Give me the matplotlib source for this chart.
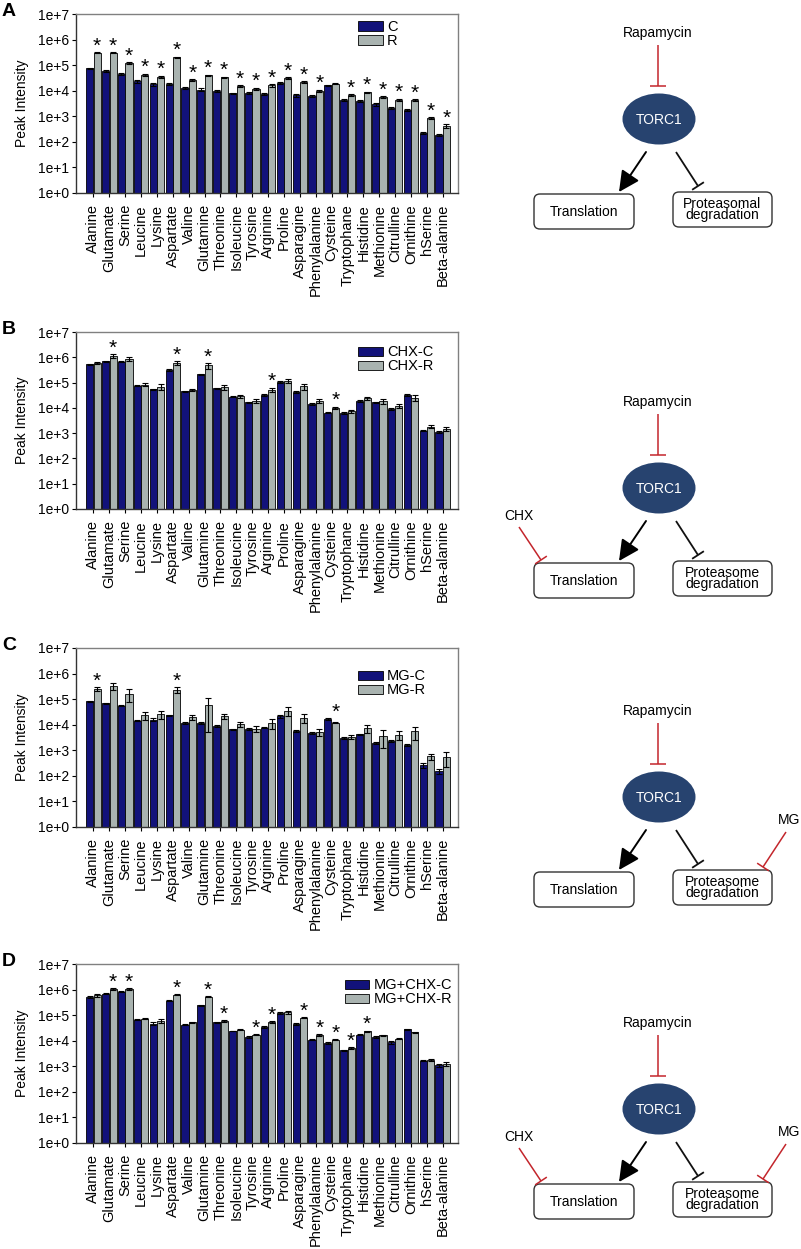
import matplotlib
matplotlib.use('Agg')
import matplotlib.pyplot as plt
import numpy as np
from matplotlib.patches import Ellipse, FancyBboxPatch
from matplotlib.ticker import FixedLocator, FuncFormatter, NullLocator

plt.rcParams['font.family'] = ['Liberation Sans', 'DejaVu Sans']

amino_acids = ['Alanine', 'Glutamate', 'Serine', 'Leucine', 'Lysine', 'Aspartate',
               'Valine', 'Glutamine', 'Threonine', 'Isoleucine', 'Tyrosine', 'Arginine',
               'Proline', 'Asparagine', 'Phenylalanine', 'Cysteine', 'Tryptophane',
               'Histidine', 'Methionine', 'Citrulline', 'Ornithine', 'hSerine', 'Beta-alanine']

# Panel A: C vs R
a_c = [7.4e4, 6.0e4, 4.4e4, 2.3e4, 1.8e4, 1.8e4, 1.26e4, 1.1e4, 1.0e4, 7.8e3, 8.5e3, 7.3e3,
       2.0e4, 6.6e3, 6.3e3, 1.6e4, 4.5e3, 4.0e3, 2.9e3, 2.2e3, 1.8e3, 2.3e2, 1.9e2]
a_c_err = [6e3, 6e3, 4e3, 2.5e3, 2.5e3, 1.5e3, 1e3, 1.5e3, 1e3, 6e2, 8e2, 6e2,
           2e3, 8e2, 6e2, 1.2e3, 4e2, 4e2, 3e2, 2e2, 2e2, 2e1, 1.5e1]
a_r = [3.1e5, 3.1e5, 1.2e5, 4.1e4, 3.5e4, 2.05e5, 2.6e4, 4.0e4, 3.3e4, 1.5e4, 1.2e4, 1.6e4,
       3.2e4, 2.2e4, 1.0e4, 1.9e4, 6.7e3, 8.7e3, 5.6e3, 4.5e3, 4.2e3, 8.4e2, 4.2e2]
a_r_err = [1.5e4, 1.5e4, 8e3, 5e3, 4e3, 1e4, 2e3, 2e3, 2e3, 1e3, 1e3, 1.5e3,
           2e3, 1.5e3, 1e3, 1e3, 5e2, 6e2, 5e2, 4e2, 4e2, 6e1, 6e1]
a_sig = [n for n in amino_acids if n != 'Cysteine']

# Panel B: CHX-C vs CHX-R
b_c = [5.2e5, 7.0e5, 6.8e5, 7.5e4, 5.4e4, 3.1e5, 4.5e4, 2.1e5, 5.9e4, 2.8e4, 1.65e4, 3.2e4,
       1.05e5, 4.2e4, 1.4e4, 6.5e3, 6.3e3, 1.9e4, 1.65e4, 9.1e3, 3.2e4, 1.26e3, 1.1e3]
b_c_err = [2e4, 3e4, 3e4, 4e3, 3e3, 2e4, 2e3, 1e4, 4e3, 2e3, 1e3, 2e3,
           6e3, 3e3, 1e3, 4e2, 4e2, 1.2e3, 1.2e3, 6e2, 2e3, 8e1, 7e1]
b_r = [6.0e5, 1.1e6, 8.5e5, 8.2e4, 6.9e4, 6.0e5, 5.2e4, 4.8e5, 6.5e4, 2.9e4, 1.9e4, 5.2e4,
       1.15e5, 7.1e4, 1.9e4, 1.0e4, 7.3e3, 2.4e4, 1.8e4, 1.2e4, 2.5e4, 1.8e3, 1.5e3]
b_r_err = [6e4, 2e5, 1.5e5, 1.2e4, 1.8e4, 1e5, 5e3, 1.2e5, 1.2e4, 4e3, 3e3, 1e4,
           2e4, 1.8e4, 3e3, 1e3, 1e3, 4e3, 4e3, 2e3, 6e3, 2.5e2, 3e2]
b_sig = ['Glutamate', 'Aspartate', 'Glutamine', 'Arginine', 'Cysteine']

# Panel C: MG-C vs MG-R
c_c = [8.1e4, 6.8e4, 5.5e4, 1.45e4, 1.55e4, 2.3e4, 1.18e4, 1.15e4, 9e3, 6.6e3, 6.8e3, 7.7e3,
       2.1e4, 5.7e3, 4.8e3, 1.7e4, 3.0e3, 4.2e3, 1.9e3, 2.4e3, 1.6e3, 2.6e2, 1.5e2]
c_c_err = [4e3, 3e3, 3e3, 1e3, 2e3, 2e3, 8e2, 1e3, 6e2, 4e2, 4e2, 5e2,
           2e3, 5e2, 3e2, 1.2e3, 2e2, 3e2, 1.5e2, 2e2, 1.5e2, 5e1, 3e1]
c_r = [2.5e5, 3.2e5, 1.6e5, 2.3e4, 2.6e4, 2.3e5, 2.0e4, 6.0e4, 2.2e4, 1.05e4, 7.0e3, 1.2e4,
       3.5e4, 1.9e4, 5.2e3, 1.2e4, 3.3e3, 7.4e3, 3.7e3, 4.1e3, 5.5e3, 5.8e2, 5.3e2]
c_r_err = [5e4, 1e5, 8e4, 8e3, 9e3, 6e4, 5e3, 5.5e4, 5e3, 2.5e3, 2e3, 5e3,
           1.3e4, 7e3, 1.5e3, 5e2, 6e2, 2.5e3, 2.5e3, 1.5e3, 3e3, 1.5e2, 3e2]
c_sig = ['Alanine', 'Aspartate', 'Cysteine']

# Panel D: MG+CHX-C vs MG+CHX-R
d_c = [5.1e5, 6.9e5, 8.1e5, 6.5e4, 4.7e4, 3.7e5, 4.3e4, 2.4e5, 5.2e4, 2.4e4, 1.4e4, 3.5e4,
       1.18e5, 4.5e4, 1.1e4, 8.2e3, 4.2e3, 1.7e4, 1.4e4, 8.7e3, 2.8e4, 1.66e3, 1.1e3]
d_c_err = [3e4, 4e4, 4e4, 3e3, 6e3, 2e4, 2e3, 1.5e4, 3e3, 1e3, 7e2, 3e3,
           1.2e4, 3e3, 7e2, 6e2, 2e2, 1e3, 7e2, 1.2e3, 2e3, 8e1, 1.5e2]
d_r = [6.0e5, 1.05e6, 1.05e6, 7.3e4, 6.0e4, 6.3e5, 5.2e4, 5.3e5, 5.9e4, 2.7e4, 1.7e4, 5.4e4,
       1.3e5, 8.0e4, 1.65e4, 1.1e4, 5.2e3, 2.3e4, 1.6e4, 1.2e4, 2.1e4, 1.8e3, 1.26e3]
d_r_err = [1e5, 6e4, 6e4, 4e3, 1e4, 4e4, 3e3, 3e4, 3e3, 1.5e3, 1e3, 4e3,
           2e4, 5e3, 1.2e3, 8e2, 3e2, 1.5e3, 1e3, 8e2, 1.5e3, 1.5e2, 2e2]
d_sig = ['Glutamate', 'Serine', 'Aspartate', 'Glutamine', 'Threonine', 'Tyrosine', 'Arginine',
         'Asparagine', 'Phenylalanine', 'Cysteine', 'Tryptophane', 'Histidine']

panel_letters = ['A', 'B', 'C', 'D']
legend_labels = [('C', 'R'), ('CHX-C', 'CHX-R'), ('MG-C', 'MG-R'), ('MG+CHX-C', 'MG+CHX-R')]

NAVY = '#12127a'
GREY = '#a9b3b0'
RED = '#c3262c'
TORC = '#27436f'

W, H = 801, 1249
fig = plt.figure(figsize=(W / 100, H / 100), dpi=100)

# overlay axes in pixel coordinates for the schematics
ov = fig.add_axes([0, 0, 1, 1])
ov.set_xlim(0, W)
ov.set_ylim(H, 0)
ov.axis('off')
ov.patch.set_visible(False)

panels = [
    (a_c, a_c_err, a_r, a_r_err, a_sig),
    (b_c, b_c_err, b_r, b_r_err, b_sig),
    (c_c, c_c_err, c_r, c_r_err, c_sig),
    (d_c, d_c_err, d_r, d_r_err, d_sig),
]
ax_tops = [14, 332, 648, 964]
ax_h = [179, 177, 179, 179]
leg_anchor = [(0.738, 0.965), (0.738, 0.925), (0.738, 0.88), (0.703, 0.92)]

x = np.arange(len(amino_acids))
bw = 0.45
err_kw = dict(ecolor='black', elinewidth=0.8, capsize=2.2, capthick=0.8)

for i, (cv, ce, rv, re, sig) in enumerate(panels):
    top = ax_tops[i]
    ax = fig.add_axes([76 / W, 1 - (top + ax_h[i]) / H, 382 / W, ax_h[i] / H])
    ax.set_yscale('log')
    ax.set_ylim(1, 1e7)
    ax.set_xlim(-1.1, len(amino_acids) - 1 + 0.96)
    ax.bar(x - bw / 2 - 0.01, cv, bw, yerr=ce, color=NAVY, edgecolor='black', lw=0.6,
           error_kw=err_kw, label=legend_labels[i][0])
    ax.bar(x + bw / 2 + 0.01, rv, bw, yerr=re, color=GREY, edgecolor='black', lw=0.6,
           error_kw=err_kw, label=legend_labels[i][1])
    for name in sig:
        k = amino_acids.index(name)
        ytop = max(cv[k] + ce[k], rv[k] + re[k])
        ax.annotate('*', xy=(x[k] + bw / 2, ytop), xytext=(0, -2.5), textcoords='offset points',
                    ha='center', va='bottom', fontsize=15)
    ax.yaxis.set_major_locator(FixedLocator([10.0 ** k for k in range(8)]))
    ax.yaxis.set_minor_locator(NullLocator())
    ax.yaxis.set_major_formatter(FuncFormatter(lambda v, p: '1e+%d' % int(round(np.log10(v)))))
    ax.set_xticks(x)
    ax.set_xticklabels(amino_acids, rotation=90, fontsize=10.5)
    ax.tick_params(axis='y', labelsize=10, length=3, width=0.8, pad=2)
    ax.tick_params(axis='x', length=3, width=0.8, pad=5)
    ax.set_ylabel('Peak Intensity', fontsize=10, labelpad=6)
    for s in ['left', 'bottom']:
        ax.spines[s].set_color('#333333')
        ax.spines[s].set_linewidth(1.0)
    for s in ['top', 'right']:
        ax.spines[s].set_color('#808080')
        ax.spines[s].set_linewidth(1.0)
    ax.legend(loc='upper left', bbox_to_anchor=leg_anchor[i], frameon=False, fontsize=10.5,
              handlelength=1.7, handleheight=0.6, handletextpad=0.3, labelspacing=0.0,
              borderpad=0, borderaxespad=0)
    fig.text(2 / W, 1 - (top - 11) / H, panel_letters[i], fontsize=14, fontweight='bold',
             ha='left', va='top')


def tbar(p0, p1, color, half=7, lw=1.2):
    p0 = np.array(p0, float)
    p1 = np.array(p1, float)
    ov.plot([p0[0], p1[0]], [p0[1], p1[1]], color=color, lw=lw, solid_capstyle='butt')
    d = (p1 - p0) / np.hypot(*(p1 - p0))
    n = np.array([-d[1], d[0]])
    a = p1 + n * half
    b = p1 - n * half
    ov.plot([a[0], b[0]], [a[1], b[1]], color=color, lw=lw, solid_capstyle='butt')


def diagram(ry, chx=False, mg=False, prot='Proteasome\ndegradation'):
    cx = 658
    ov.text(cx, ry, 'Rapamycin', ha='center', va='center', fontsize=10)
    tbar((cx, ry + 12), (cx, ry + 53), RED, half=8, lw=1.1)
    ov.add_patch(Ellipse((cx + 1, ry + 86), 73, 51, color=TORC, lw=0))
    ov.text(cx + 1, ry + 87, 'TORC1', color='white', ha='center', va='center', fontsize=10)
    ov.annotate('', xy=(619, ry + 159), xytext=(646, ry + 119),
                arrowprops=dict(arrowstyle='-|>,head_length=0.7,head_width=0.35',
                                mutation_scale=18, color='black', lw=1.4,
                                shrinkA=0, shrinkB=0))
    tbar((676, ry + 119), (698, ry + 153), '#111111', half=7, lw=1.3)
    ov.add_patch(FancyBboxPatch((534, ry + 161), 100, 35,
                                boxstyle='round,pad=0,rounding_size=6',
                                fc='white', ec='#333333', lw=1.0))
    ov.text(584, ry + 178.5, 'Translation', ha='center', va='center', fontsize=10)
    ov.add_patch(FancyBboxPatch((673, ry + 159), 99, 35,
                                boxstyle='round,pad=0,rounding_size=6',
                                fc='white', ec='#333333', lw=1.0))
    ov.text(722.5, ry + 176.5, prot, ha='center', va='center', fontsize=10, linespacing=0.75)
    if chx:
        ov.text(519, ry + 114, 'CHX', ha='center', va='center', fontsize=10)
        tbar((519, ry + 125), (541, ry + 158), RED, half=7, lw=1.1)
    if mg:
        ov.text(789, ry + 109, 'MG', ha='center', va='center', fontsize=10)
        tbar((786, ry + 121), (763, ry + 156), RED, half=7, lw=1.1)


diagram(33, prot='Proteasomal\ndegradation')
diagram(402, chx=True)
diagram(711, mg=True)
diagram(1023, chx=True, mg=True)

fig.savefig('out.png', dpi=100)
